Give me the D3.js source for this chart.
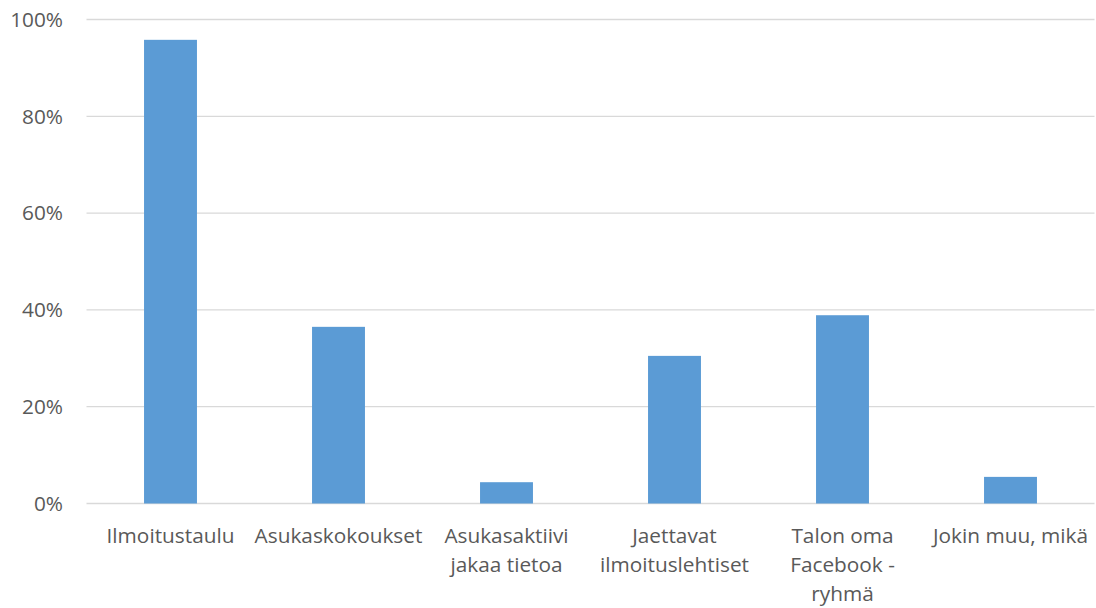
<!DOCTYPE html>
<html>
<head>
<meta charset="utf-8">
<script src="https://cdn.jsdelivr.net/npm/d3@7"></script>
<style>
  html, body { margin: 0; padding: 0; background: #fff; }
  svg { display: block; }
  text { font-family: "Open Sans", sans-serif; fill: #595959; }
</style>
</head>
<body>
<svg id="chart" width="1096" height="608"></svg>
<script>
// Categories (with the line breaks used under the axis)
const categories = [
  "Ilmoitustaulu",
  "Asukaskokoukset",
  "Asukasaktiivi jakaa tietoa",
  "Jaettavat ilmoituslehtiset",
  "Talon oma Facebook -ryhmä",
  "Jokin muu, mikä"
];
const categoryLines = [
  ["Ilmoitustaulu"],
  ["Asukaskokoukset"],
  ["Asukasaktiivi", "jakaa tietoa"],
  ["Jaettavat", "ilmoituslehtiset"],
  ["Talon oma", "Facebook -", "ryhmä"],
  ["Jokin muu, mikä"]
];
// Share of respondents (fraction)
const values = [0.958, 0.365, 0.044, 0.305, 0.389, 0.055];
// Y-axis ticks
const yTicks = [0, 0.2, 0.4, 0.6, 0.8, 1.0];

const svg = d3.select("#chart");
const margin = { left: 86.5, right: 1.5, top: 19.5, bottom: 104.5 };
const W = 1096, H = 608;
const fontSize = "20.8px";

const x = d3.scaleBand()
  .domain(categories)
  .range([margin.left, W - margin.right])
  .paddingInner(0.685)
  .paddingOuter(0.3425);

const y = d3.scaleLinear()
  .domain([0, 1])
  .range([H - margin.bottom, margin.top]);

// Gridlines
svg.append("g")
  .selectAll("line")
  .data(yTicks)
  .join("line")
  .attr("x1", margin.left)
  .attr("x2", W - margin.right)
  .attr("y1", d => y(d))
  .attr("y2", d => y(d))
  .attr("stroke", "#d9d9d9")
  .attr("stroke-width", 1.3);

// Y tick labels
svg.append("g")
  .selectAll("text")
  .data(yTicks)
  .join("text")
  .attr("x", 63)
  .attr("y", d => y(d))
  .attr("dy", "0.35em")
  .attr("text-anchor", "end")
  .style("font-size", fontSize)
  .text(d => d3.format(".0%")(d));

// Bars
svg.append("g")
  .selectAll("rect")
  .data(values)
  .join("rect")
  .attr("x", (d, i) => x(categories[i]))
  .attr("width", x.bandwidth())
  .attr("y", d => y(d))
  .attr("height", d => y(0) - y(d))
  .attr("fill", "#5b9bd5");

// Category labels
const labels = svg.append("g")
  .selectAll("text")
  .data(categories)
  .join("text")
  .attr("text-anchor", "middle")
  .style("font-size", fontSize)
  .attr("transform", d => `translate(${x(d) + x.bandwidth() / 2},${y(0)})`);

labels.each(function (d, i) {
  d3.select(this).selectAll("tspan")
    .data(categoryLines[i])
    .join("tspan")
    .attr("x", 0)
    .attr("y", (t, j) => 39 + j * 29)
    .text(t => t);
});
</script>
</body>
</html>
